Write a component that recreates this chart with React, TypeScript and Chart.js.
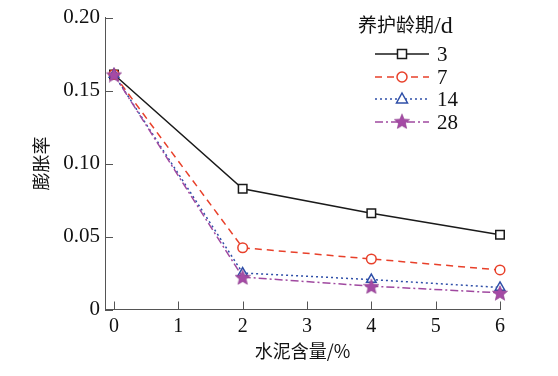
import React, { useEffect, useRef } from "react";
import { Chart, registerables } from "chart.js";
Chart.register(...registerables);

const cementContent = [0, 2, 4, 6];
const seriesLabels = ["3", "7", "14", "28"];
const day3 = [0.161, 0.0827, 0.0659, 0.0512];
const day7 = [0.161, 0.0423, 0.0346, 0.0271];
const day14 = [0.161, 0.025, 0.0205, 0.0151];
const day28 = [0.161, 0.0222, 0.016, 0.0114];
const xTicks = [0, 1, 2, 3, 4, 5, 6];
const yTicks = [0, 0.05, 0.1, 0.15, 0.2];

const SERIF = "'Liberation Serif', 'DejaVu Serif', serif";
const CJK = "'Noto Sans CJK SC', sans-serif";

const colors = ["#1a1a1a", "#e8402a", "#2f4fa8", "#a049a0"];
const dashes = [[], [7, 5], [2, 3], [8, 3, 2, 3]];

function makeStar(size: number, color: string) {
  const c = document.createElement("canvas");
  c.width = size;
  c.height = size;
  const ctx = c.getContext("2d")!;
  const cx = size / 2, cy = size / 2 + 0.8;
  const R = size / 2, r = R * 0.45;
  ctx.beginPath();
  for (let i = 0; i < 10; i++) {
    const rad = i % 2 === 0 ? R : r;
    const a = -Math.PI / 2 + (i * Math.PI) / 5;
    const px = cx + rad * Math.cos(a), py = cy + rad * Math.sin(a);
    if (i === 0) ctx.moveTo(px, py); else ctx.lineTo(px, py);
  }
  ctx.closePath();
  ctx.fillStyle = color;
  ctx.fill();
  ctx.strokeStyle = "#8a3a8a";
  ctx.lineWidth = 0.6;
  ctx.stroke();
  return c;
}

export default function App() {
  const ref = useRef<HTMLCanvasElement>(null);
  useEffect(() => {
    const star = makeStar(16, "#a54aa5");
    const all = [day3, day7, day14, day28];
    const styles: any[] = ["rect", "circle", "triangle", star];
    const radii = [6, 4.8, 5.5, 8];
    const datasets = all.map((vals, i) => ({
      label: seriesLabels[i],
      data: vals.map((v, j) => ({ x: cementContent[j], y: v })),
      borderColor: colors[i],
      backgroundColor: "#ffffff",
      borderWidth: 1.5,
      borderDash: dashes[i],
      pointStyle: styles[i],
      pointRadius: radii[i],
      pointBorderColor: colors[i],
      pointBackgroundColor: "#ffffff",
      pointBorderWidth: 1.5,
      clip: false as any,
      order: 4 - i,
    }));

    const innerTicks = {
      id: "innerTicks",
      afterDraw(chart: any) {
        const ctx = chart.ctx;
        const xs = chart.scales.x, ys = chart.scales.y;
        const a = chart.chartArea;
        ctx.save();
        ctx.strokeStyle = "#555";
        ctx.lineWidth = 1;
        xTicks.forEach((t) => {
          const px = Math.round(xs.getPixelForValue(t)) + 0.5;
          ctx.beginPath();
          ctx.moveTo(px, a.bottom);
          ctx.lineTo(px, a.bottom - 8);
          ctx.stroke();
        });
        yTicks.forEach((t) => {
          const py = Math.round(ys.getPixelForValue(t)) + 0.5;
          ctx.beginPath();
          ctx.moveTo(a.left, py);
          ctx.lineTo(a.left + 8, py);
          ctx.stroke();
        });
        // legend
        const lx0 = 375, lx1 = 429, mx = 402, tx = 437;
        const ly = [54, 77, 99, 122];
        ctx.fillStyle = "#111";
        ctx.textBaseline = "middle";
        ctx.textAlign = "left";
        ctx.font = `19px ${CJK}`;
        ctx.fillText("养护龄期", 358, 25);
        const w = ctx.measureText("养护龄期").width;
        ctx.font = `24px ${SERIF}`;
        ctx.fillText("/d", 358 + w, 27);
        datasets.forEach((d, i) => {
          const y = ly[i];
          ctx.save();
          ctx.strokeStyle = colors[i];
          ctx.lineWidth = 1.5;
          ctx.setLineDash(dashes[i]);
          ctx.beginPath();
          ctx.moveTo(lx0, y);
          ctx.lineTo(lx1, y);
          ctx.stroke();
          ctx.setLineDash([]);
          ctx.fillStyle = "#fff";
          if (i === 0) {
            ctx.fillRect(mx - 4.5, y - 4.5, 9, 9);
            ctx.strokeRect(mx - 4.5, y - 4.5, 9, 9);
          } else if (i === 1) {
            ctx.beginPath();
            ctx.arc(mx, y, 5, 0, Math.PI * 2);
            ctx.fill();
            ctx.stroke();
          } else if (i === 2) {
            ctx.beginPath();
            ctx.moveTo(mx, y - 6);
            ctx.lineTo(mx + 5.5, y + 4);
            ctx.lineTo(mx - 5.5, y + 4);
            ctx.closePath();
            ctx.fill();
            ctx.stroke();
          } else {
            ctx.drawImage(star, mx - 8, y - 8.8, 16, 16);
          }
          ctx.restore();
          ctx.fillStyle = "#111";
          ctx.font = `21px ${SERIF}`;
          ctx.textBaseline = "middle";
          ctx.fillText(seriesLabels[i], tx, y + 1);
        });
        ctx.restore();
      },
    };

    const chart = new Chart(ref.current!, {
      type: "line",
      data: { datasets: datasets as any },
      plugins: [innerTicks],
      options: {
        animation: false,
        responsive: false,
        layout: { padding: { top: 15.5, right: 58, left: 0, bottom: 14.5 } },
        plugins: { legend: { display: false }, tooltip: { enabled: false } },
        scales: {
          x: {
            type: "linear",
            min: -0.14,
            max: 6,
            afterBuildTicks: (s: any) => {
              s.ticks = xTicks.map((v) => ({ value: v }));
            },
            afterFit: (s: any) => {
              s.height = 52;
            },
            grid: { display: false, drawTicks: false },
            border: { display: true, color: "#555", width: 1 },
            ticks: {
              color: "#111",
              font: { family: SERIF, size: 20 },
              padding: 5,
              maxRotation: 0,
              callback: (v: any) => String(v),
            },
            title: {
              display: true,
              text: "水泥含量/%",
              color: "#111",
              font: { family: CJK, size: 18 },
              padding: { top: 2, bottom: 0 },
            },
          },
          y: {
            type: "linear",
            min: 0,
            max: 0.2,
            afterBuildTicks: (s: any) => {
              s.ticks = yTicks.map((v) => ({ value: v }));
            },
            afterFit: (s: any) => {
              s.width = 105;
            },
            grid: { display: false, drawTicks: false },
            border: { display: true, color: "#555", width: 1 },
            ticks: {
              color: "#111",
              font: { family: SERIF, size: 21 },
              padding: 5,
              callback: (v: any) => (v === 0 ? "0" : Number(v).toFixed(2)),
            },
            title: {
              display: true,
              text: "膨胀率",
              color: "#111",
              font: { family: CJK, size: 18 },
              padding: { top: 30, bottom: 0 },
            },
          },
        },
      },
    });
    return () => chart.destroy();
  }, []);
  return (
    <div style={{ position: "absolute", left: 0, top: 0, width: 558, height: 376, background: "#fff" }}>
      <canvas ref={ref} width={558} height={376} />
    </div>
  );
}
